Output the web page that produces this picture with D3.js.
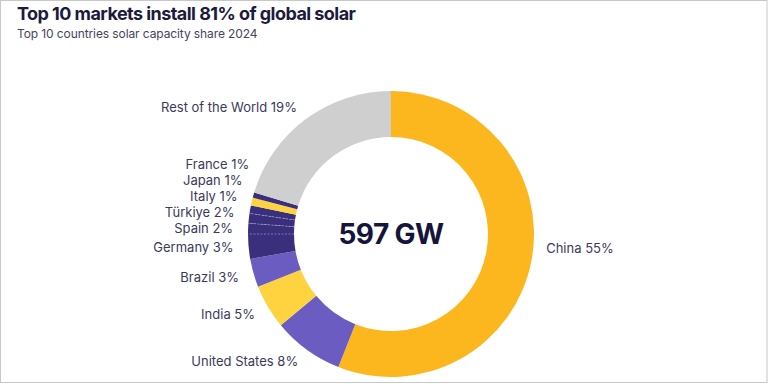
<!DOCTYPE html>
<html>
<head>
<meta charset="utf-8">
<script src="https://cdn.jsdelivr.net/npm/d3@7"></script>
<style>
  body { margin: 0; background: #fff; }
  text { font-family: Inter, "Noto Sans", sans-serif; }
</style>
</head>
<body>
<div id="chart"></div>
<script>
// slices, clockwise from 12 o'clock
const markets = ['China', 'United States', 'India', 'Brazil', 'Germany', 'Spain', 'Türkiye', 'Italy', 'Japan', 'France', 'Rest of the World'];
const shares = [56.0, 8.0, 5.0, 3.2, 2.8, 1.2, 1.1, 0.9, 0.9, 0.6, 20.3];
const shareLabels = ['55%', '8%', '5%', '3%', '3%', '2%', '2%', '1%', '1%', '1%', '19%'];
const totalLabel = '597 GW';

const palette = ['#fdb71e', '#6b5cc1', '#ffd23f', '#6b5cc1', '#392f7c', '#392f7c', '#392f7c', '#392f7c', '#ffd23f', '#392f7c', '#cfcfcf'];

const width = 768;
const height = 384;
const cx = 391, cy = 234;
const outerR = 143, innerR = 97, labelR = 158;

const data = markets.map((m, i) => ({ market: m, share: shares[i], label: shareLabels[i] }));
const color = d3.scaleOrdinal().domain(markets).range(palette);

const svg = d3.select('#chart')
    .append('svg')
    .attr('width', width)
    .attr('height', height);

// frame
svg.append('rect')
    .attr('x', 0.5).attr('y', 0.5)
    .attr('width', width - 1.5).attr('height', 382)
    .attr('fill', 'none')
    .attr('stroke', '#c8c8c8');

svg.append('text')
    .attr('x', 17).attr('y', 20)
    .attr('font-size', 18)
    .attr('font-weight', 700)
    .attr('letter-spacing', -0.55)
    .attr('fill', '#1c1a3d')
    .text('Top 10 markets install 81% of global solar');

svg.append('text')
    .attr('x', 17).attr('y', 38)
    .attr('font-size', 12)
    .attr('letter-spacing', -0.1)
    .attr('fill', '#45445f')
    .text('Top 10 countries solar capacity share 2024');

const pie = d3.pie().sort(null).value((d) => d.share);
const arcs = pie(data);
const arc = d3.arc().innerRadius(innerR).outerRadius(outerR);

const g = svg.append('g').attr('transform', `translate(${cx},${cy})`);

g.selectAll('path.slice')
    .data(arcs)
    .join('path')
    .attr('class', 'slice')
    .attr('d', arc)
    .attr('fill', (d) => color(d.data.market));

// faint dividers where two neighbours share a colour
const seams = arcs.filter((d, i) => i > 0 && color(d.data.market) === color(arcs[i - 1].data.market));
g.selectAll('line.seam')
    .data(seams)
    .join('line')
    .attr('class', 'seam')
    .attr('x1', (d) => d3.pointRadial(d.startAngle, innerR)[0])
    .attr('y1', (d) => d3.pointRadial(d.startAngle, innerR)[1])
    .attr('x2', (d) => d3.pointRadial(d.startAngle, outerR)[0])
    .attr('y2', (d) => d3.pointRadial(d.startAngle, outerR)[1])
    .attr('stroke', 'rgba(255,255,255,0.45)')
    .attr('stroke-width', 0.8)
    .attr('stroke-dasharray', '2,1.5');

// label positions: radial, then spread the crowded left ones upward
const gap = 16;
const labels = arcs.map((d) => {
    const mid = (d.startAngle + d.endAngle) / 2;
    const [x, y] = d3.pointRadial(mid, labelR);
    const left = mid > Math.PI;
    // the lone right-hand label sits closer to the horizontal
    return { d, x, y: left ? y : y * 0.5, left };
});
const leftLabels = labels.filter((l) => l.left).sort((a, b) => b.y - a.y);
for (let i = 1; i < leftLabels.length; i++) {
    const prev = leftLabels[i - 1];
    const cur = leftLabels[i];
    if (cur.y > prev.y - gap) {
        cur.y = prev.y - gap;
        cur.x = -Math.sqrt(Math.max(0, labelR * labelR - cur.y * cur.y));
    }
}

g.selectAll('text.lbl')
    .data(labels)
    .join('text')
    .attr('class', 'lbl')
    .attr('x', (l) => l.x)
    .attr('y', (l) => l.y)
    .attr('dy', '0.35em')
    .attr('text-anchor', (l) => (l.left ? 'end' : 'start'))
    .attr('font-size', 13)
    .attr('fill', '#3b3a5a')
    .text((l) => `${l.d.data.market} ${l.d.data.label}`);

g.append('text')
    .attr('x', 0)
    .attr('y', 0)
    .attr('dy', '0.36em')
    .attr('text-anchor', 'middle')
    .attr('font-size', 28)
    .attr('font-weight', 700)
    .attr('letter-spacing', -0.6)
    .attr('fill', '#15143a')
    .text(totalLabel);
</script>
</body>
</html>
